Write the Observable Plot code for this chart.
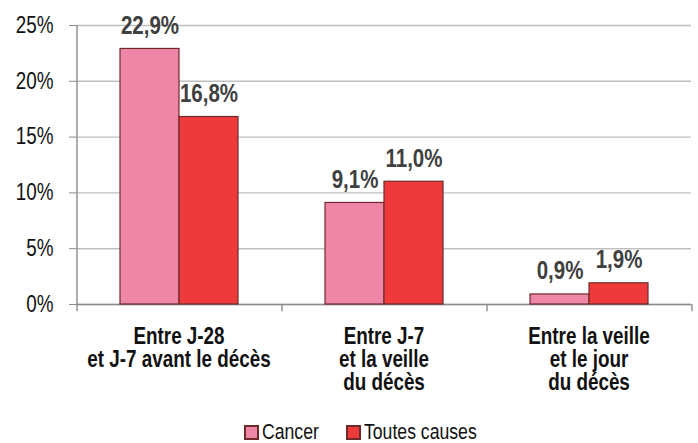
<!DOCTYPE html>
<html><head><meta charset="utf-8">
<script src="https://cdn.jsdelivr.net/npm/d3@7"></script>
<script src="https://cdn.jsdelivr.net/npm/@observablehq/plot@0.6"></script>
<style>
body{margin:0;background:#fff;overflow:hidden;}
#chart{width:698px;height:421px;}
#legend{height:22px;}
#legend > div{min-height:0 !important;height:22px !important;line-height:22px !important;}
#legend svg rect{stroke:#6e2a2a;stroke-width:2px;}
#legend svg{margin-right:4px !important;}
#legend span{margin-right:28px !important;line-height:22px;}
#legend span span{margin-right:0 !important;}
</style></head><body><div id="chart"></div><div id="legend"></div><script>
const categories = ["Entre J-28\net J-7 avant le décès", "Entre J-7\net la veille\ndu décès", "Entre la veille\net le jour\ndu décès"];
const series = ["Cancer", "Toutes causes"];
const cancerValues = [22.9, 9.1, 0.9];
const allCauseValues = [16.8, 11.0, 1.9];
const yTicks = [0, 5, 10, 15, 20, 25];
const colors = ["#EE86A8", "#EE3A3A"];

const data = categories.flatMap((c, i) => [
  {cat: c, series: series[0], value: cancerValues[i]},
  {cat: c, series: series[1], value: allCauseValues[i]}
]);
const fmt = v => v.toFixed(1).replace(".", ",") + "%";

const W = 698, H = 421, ML = 76, MR = 7;
const bandW = (W - ML - MR) / categories.length;
const barW = 59;
const po = (bandW - 2 * barW) / 2 / barW;
const half = po * barW + barW / 2;
const FONT = "'Liberation Sans Narrow','Arial Narrow','Liberation Sans',Arial,sans-serif";
const SX = 0.82; // narrow (condensed) text, like Arial Narrow

const plot = Plot.plot({
  width: W, height: H, marginLeft: ML, marginRight: MR, marginTop: 25, marginBottom: H - 304,
  style: {fontFamily: FONT, background: "#fff", overflow: "visible", color: "#111"},
  fx: {domain: categories, padding: 0, label: null, axis: null},
  x: {domain: series, paddingInner: 0, paddingOuter: po, axis: null},
  y: {domain: [0, 25], axis: null},
  color: {domain: series, range: colors},
  marks: [
    Plot.gridY(yTicks, {stroke: "#c0c0c0", strokeOpacity: 1, strokeWidth: 1.4}),
    Plot.axisY(yTicks, {anchor: "left", tickFormat: d => d + "%", tickSize: 7, tickPadding: 16, fontSize: 23, stroke: "#8c8c8c", fill: "#111", label: null}),
    Plot.ruleY([0], {stroke: "#8c8c8c", strokeWidth: 1.4}),
    Plot.ruleX([{cat: categories[0], series: series[0]}], {fx: "cat", x: "series", y1: 25, y2: -0.65, dx: -half, stroke: "#8c8c8c", strokeWidth: 1.4}),
    Plot.ruleX(categories.map(c => ({cat: c, series: series[1]})), {fx: "cat", x: "series", y1: 0, y2: -0.65, dx: half, stroke: "#8c8c8c", strokeWidth: 1.4}),
    Plot.barY(data, {fx: "cat", x: "series", y: "value", fill: "series", stroke: "#6e2a2a", strokeWidth: 1.2}),
    Plot.text(data, {fx: "cat", x: "series", y: "value", text: d => fmt(d.value), lineAnchor: "bottom", dy: -15, fontSize: 25, fontWeight: "bold", fill: "#404040"}),
    Plot.axisFx({anchor: "bottom", tickSize: 0, tickPadding: 23, fontSize: 23, fontWeight: "bold", lineHeight: 1.0, fill: "#111", label: null})
  ]
});
document.getElementById("chart").appendChild(plot);

// horizontal condensing of every text around its anchor point
plot.querySelectorAll("text").forEach(t => {
  const x = +t.getAttribute("x") || 0, y = +t.getAttribute("y") || 0;
  const tr = t.getAttribute("transform") || "";
  t.setAttribute("transform", `${tr} translate(${x},${y}) scale(${SX},1) translate(${-x},${-y})`);
});

const legend = Plot.legend({
  color: {domain: series, range: colors},
  swatchSize: 13, marginLeft: 245,
  style: {fontFamily: FONT, fontSize: "21.5px", color: "#111"}
});
document.getElementById("legend").appendChild(legend);
legend.querySelectorAll("svg").forEach(svg => {
  const parent = svg.parentNode;
  [...parent.childNodes].filter(n => n.nodeType === 3 && n.textContent.trim()).forEach(n => {
    const s = document.createElement("span");
    s.style.display = "inline-block";
    s.style.transformOrigin = "0 50%";
    s.textContent = n.textContent;
    parent.replaceChild(s, n);
    const w = s.getBoundingClientRect().width;
    s.style.transform = `scaleX(${SX})`;
    s.style.setProperty("margin-right", `${-w * (1 - SX)}px`, "important");
  });
});
</script></body></html>
